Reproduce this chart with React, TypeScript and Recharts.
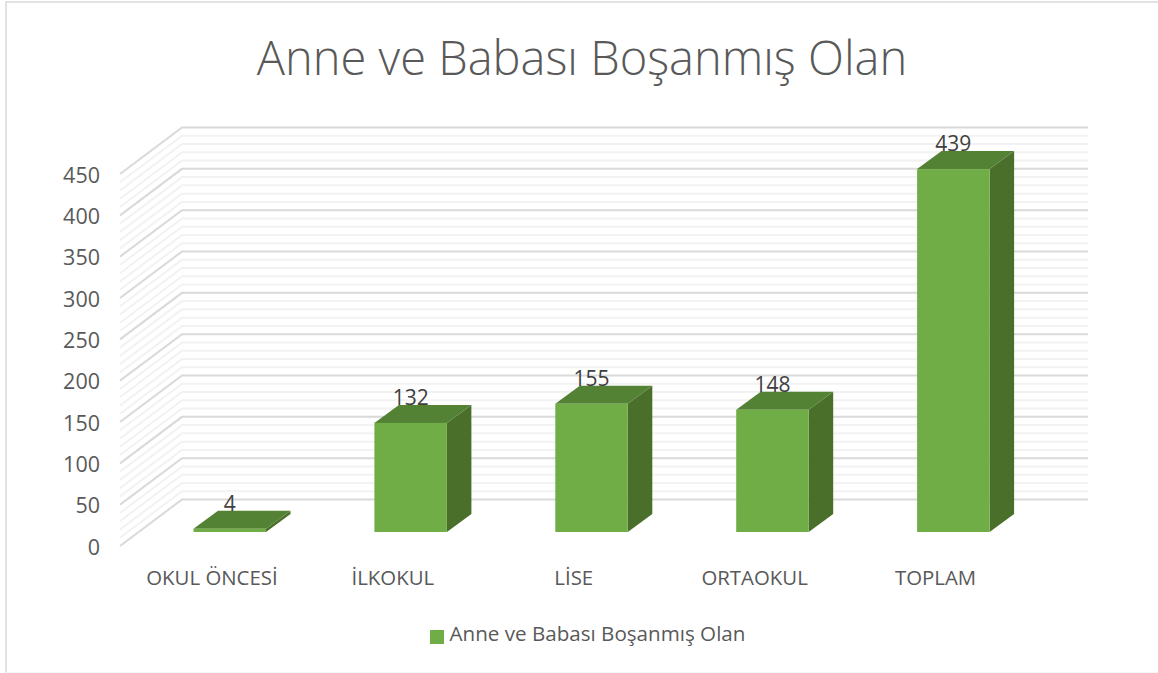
import { BarChart, Bar, XAxis, YAxis, Legend, LabelList, ReferenceLine } from "recharts";

const categories = ["OKUL ÖNCESİ", "İLKOKUL", "LİSE", "ORTAOKUL", "TOPLAM"];
const seriesName = "Anne ve Babası Boşanmış Olan";
const values = [4, 132, 155, 148, 439];
const yTicks = [0, 50, 100, 150, 200, 250, 300, 350, 400, 450];
const minorTicks = [
  10, 20, 30, 40, 60, 70, 80, 90, 110, 120, 130, 140, 160, 170, 180, 190, 210, 220, 230, 240,
  260, 270, 280, 290, 310, 320, 330, 340, 360, 370, 380, 390, 410, 420, 430, 440,
];

const data = categories.map((name, i) => ({ name, value: values[i] }));

const FONT = "'Open Sans', sans-serif";
const TEXT = "#595959";
const FRONT = "#70ad47";
const TOP = "#548235";
const SIDE = "#4a6f2b";
const DEPTH_X = 24.5;
const DEPTH_Y = 18;

// floor of the fake 3D box, relative to where the bars stand
const gridLine = (color: string) => (props: any) => {
  const { x1, x2, y1 } = props;
  const pts = [
    [x1 - 19.5, y1 + 14],
    [x1 + 42.5, y1 - 32.5],
    [x2 + 44, y1 - 32.5],
  ];
  return <polyline points={pts.map((p) => p.join(",")).join(" ")} fill="none" stroke={color} strokeWidth={2} />;
};

const Box3D = (props: any) => {
  const { x, y, width, height } = props;
  const r = x + width;
  const b = y + height;
  return (
    <g>
      <polygon points={`${r},${y} ${r + DEPTH_X},${y - DEPTH_Y} ${r + DEPTH_X},${b - DEPTH_Y} ${r},${b}`} fill={SIDE} />
      <polygon points={`${x},${y} ${x + DEPTH_X},${y - DEPTH_Y} ${r + DEPTH_X},${y - DEPTH_Y} ${r},${y}`} fill={TOP} />
      <rect x={x} y={y} width={width} height={height} fill={FRONT} />
    </g>
  );
};

const YTick = ({ x, y, payload }: any) => (
  <text x={x - 33.5} y={y + 14} textAnchor="end" dominantBaseline="central" fontSize={21.5} fontFamily={FONT} fill={TEXT}>
    {payload.value}
  </text>
);

const XTick = ({ x, y, payload }: any) => (
  <text x={x - 18} y={y} textAnchor="middle" dominantBaseline="central" fontSize={20.4} fontFamily={FONT} fill={TEXT}>
    {payload.value}
  </text>
);

const ValueLabel = ({ x, y, width, value }: any) => (
  <text x={x + width / 2} y={y - 26} textAnchor="middle" dominantBaseline="central" fontSize={21} fontFamily={FONT} fill="#404040">
    {value}
  </text>
);

const App = () => (
  <div
    style={{
      position: "absolute",
      left: 0,
      top: 0,
      width: 1158,
      height: 673,
      background: "#fff",
      overflow: "hidden",
    }}
  >
    <div
      style={{
        position: "absolute",
        left: 5,
        top: 1,
        width: 1153,
        height: 672,
        borderLeft: "2px solid #e2e2e2",
        borderTop: "2px solid #e2e2e2",
        borderBottom: "1px solid #f6f6f6",
        boxSizing: "border-box",
      }}
    />
    <div
      style={{
        position: "absolute",
        left: 0,
        width: 1164,
        top: 27,
        textAlign: "center",
        fontFamily: FONT,
        fontWeight: 300,
        fontSize: 47,
        lineHeight: "60px",
        color: TEXT,
      }}
    >
      {seriesName}
    </div>
    <BarChart
      width={1158}
      height={673}
      data={data}
      margin={{ top: 160, right: 114, bottom: 53, left: 99.5 }}
      barCategoryGap="60%"
      style={{ position: "absolute", left: 0, top: 0 }}
    >
      <XAxis dataKey="name" axisLine={false} tickLine={false} tick={<XTick />} tickMargin={39} interval={0} height={60} />
      <YAxis domain={[0, 450]} ticks={yTicks} axisLine={false} tickLine={false} tick={<YTick />} width={40} tickMargin={0} />
      {minorTicks.map((v) => (
        <ReferenceLine key={v} y={v} zIndex={-100} shape={gridLine("#f2f2f2")} />
      ))}
      {yTicks.map((v) => (
        <ReferenceLine key={v} y={v} zIndex={-90} shape={gridLine("#d9d9d9")} />
      ))}
      <Legend
        verticalAlign="bottom"
        iconType="square"
        iconSize={14}
        formatter={(v) => <span style={{ color: TEXT, fontFamily: FONT, fontSize: 20.6, marginLeft: 2 }}>{v}</span>}
        wrapperStyle={{ position: "absolute", left: 0, width: 1185, top: 619 }}
      />
      <Bar dataKey="value" name={seriesName} fill={FRONT} barSize={72.5} shape={<Box3D />} isAnimationActive={false}>
        <LabelList dataKey="value" content={<ValueLabel />} />
      </Bar>
    </BarChart>
  </div>
);

export default App;
